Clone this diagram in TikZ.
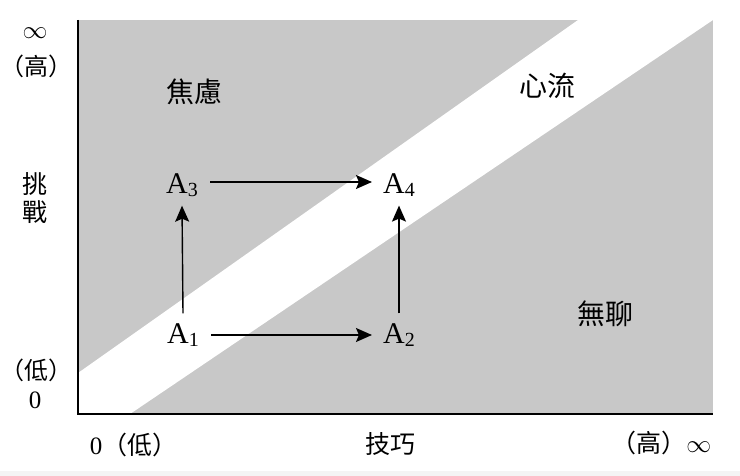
\documentclass[tikz,border=0pt]{standalone}
\usepackage{fontspec}
\setmainfont{Liberation Serif}
\newfontfamily\cjk{Noto Sans CJK TC}
\usepackage{tikz}
\usetikzlibrary{arrows.meta}

\definecolor{zonegray}{RGB}{200,200,200}
\definecolor{stripgray}{RGB}{244,244,244}

\newcommand{\stsub}[1]{{\fontsize{20}{20}\selectfont\raisebox{-3pt}{#1}}}
\newcommand{\lpar}{\kern-0.45em（}
\newcommand{\rpar}{）\kern-0.45em}

\begin{document}
\begin{tikzpicture}[x=1pt,y=-1pt,>={Stealth[length=16pt,width=14pt,inset=3pt]},
			move/.style={->,line width=1.4pt,shorten >=1pt},
			zone label/.style={font=\cjk\fontsize{28}{30}\selectfont,inner sep=0pt},
			axis label/.style={font=\cjk\fontsize{25}{28}\selectfont,inner sep=0pt,align=center},
			state label/.style={font=\fontsize{30}{32}\selectfont,inner sep=0pt}]

			\useasboundingbox (0,0) rectangle (740,476);
			\fill[stripgray] (0,471) rectangle (740,476);

			% zones
			\coordinate (origin) at (78,414);
			\coordinate (top) at (78,20);
			\coordinate (right) at (713,414);
			\fill[zonegray] (top) rectangle (713,414);
			\fill[white] (78,373) -- (578,20) -- (713,20) -- (130,414) -- (origin) -- cycle;
			\draw[line width=1.5pt] (top) -- (origin) -- (right);

			\node[zone label] (anxiety) at (194,92) {焦慮};
			\node[zone label] (flow) at (547,86) {心流};
			\node[zone label] (boredom) at (605,314) {無聊};

			% axis texts
			\node[font=\fontsize{24}{24}\selectfont] (yinf) at (35,33) {$\infty$};
			\node[axis label,font=\cjk\fontsize{24}{28}\selectfont] (yhigh) at (37,66) {\lpar 高\rpar};
			\node[axis label] (challenge) at (35,198) {挑\\戰};
			\node[axis label,font=\cjk\fontsize{24}{28}\selectfont] (ylow) at (37,370) {\lpar 低\rpar};
			\node[font=\fontsize{25}{28}\selectfont,inner sep=0pt] (yzero) at (35,400) {0};
			\node[axis label] (xlow) at (128,445) {{\rmfamily 0}（低\rpar};
			\node[axis label] (skill) at (390,444) {技巧};
			\node[axis label] (xhigh) at (667,443) {\lpar 高）{\fontsize{24}{24}\selectfont$\infty$}};

			% states
			\node[state label] (a1) at (183,335) {A\stsub{1}};
			\node[state label] (a2) at (399,335) {A\stsub{2}};
			\node[state label] (a3) at (182,185) {A\stsub{3}};
			\node[state label] (a4) at (399,185) {A\stsub{4}};

			\path[move]
			([shift={(12pt,0pt)}]a1.east) edge ([shift={(-10pt,0pt)}]a2.west)
			([shift={(12pt,3pt)}]a3.east) edge ([shift={(-10pt,3pt)}]a4.west)
			([yshift=10pt]a1.north) edge ([yshift=-8pt]a3.south)
			([yshift=10pt]a2.north) edge ([yshift=-8pt]a4.south);

		\end{tikzpicture}
\end{document}
